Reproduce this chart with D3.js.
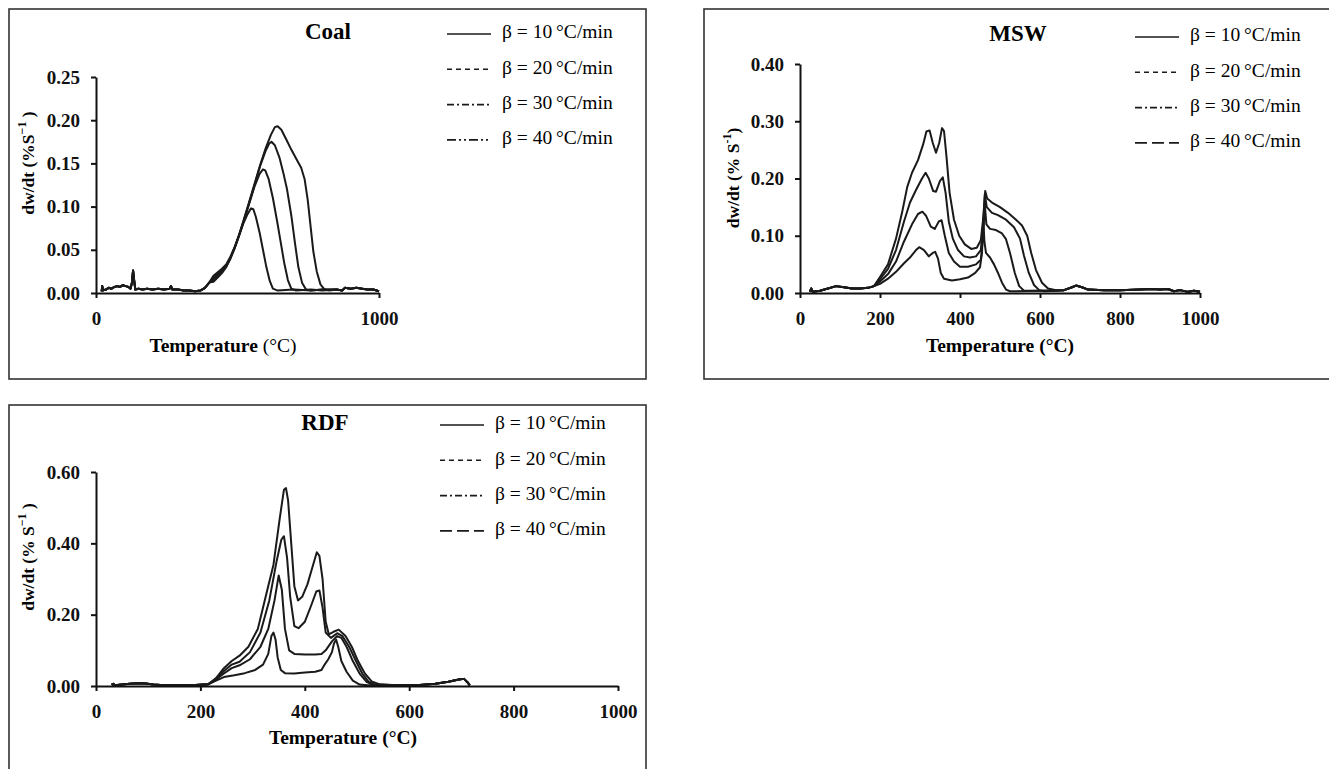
<!DOCTYPE html>
<html>
<head>
<meta charset="utf-8">
<script src="https://d3js.org/d3.v7.min.js"></script>
<style>
body { margin: 0; background: #fff; }
svg { display: block; }
.tick text { font-family: "Liberation Serif", "Times New Roman", serif; font-weight: bold; font-size: 19px; fill: #111; }
.axis path, .axis line { stroke: #111; stroke-width: 2; }
</style>
</head>
<body>
<svg width="1329" height="769"></svg>
<script>
var svg = d3.select("svg");

//////////// DATA (temperature in °C, dw/dt in %/s) ////////////

var legendLabels = ["β = 10\u2009°C/min", "β = 20\u2009°C/min", "β = 30\u2009°C/min", "β = 40\u2009°C/min"];

// coal - common noisy start, then one array per heating rate
var coalLow = [[20,0.002],[22,0.008],[25,0.003],[35,0.004],[45,0.006],[55,0.005],[65,0.007],[75,0.008],[85,0.007],[95,0.009],[105,0.008],[115,0.007],[122,0.005],[127,0.012],[131,0.026],[135,0.014],[139,0.004],[150,0.005],[165,0.004],[180,0.005],[200,0.004],[220,0.005],[240,0.004],[260,0.005],[265,0.008],[270,0.004],[290,0.004],[310,0.003],[330,0.003],[350,0.002],[370,0.003],[385,0.006],[400,0.012]];
var coalTail = [[850,0.004],[870,0.003],[880,0.006],[900,0.005],[920,0.006],[940,0.005],[960,0.004],[980,0.004],[1000,0.002]];
var coal10 = [[415,0.02],[430,0.024],[445,0.028],[460,0.033],[475,0.042],[490,0.053],[505,0.066],[520,0.08],[535,0.091],[548,0.098],[556,0.097],[565,0.088],[578,0.07],[590,0.05],[602,0.03],[614,0.014],[625,0.005],[640,0.003],[700,0.004],[760,0.003],[800,0.004]];
var coal20 = [[415,0.017],[430,0.022],[445,0.026],[460,0.031],[475,0.04],[490,0.052],[505,0.066],[520,0.081],[540,0.102],[560,0.123],[578,0.138],[590,0.143],[598,0.142],[610,0.132],[625,0.11],[640,0.083],[652,0.06],[665,0.035],[678,0.015],[690,0.005],[705,0.003],[760,0.004],[800,0.003]];
var coal30 = [[415,0.015],[430,0.02],[445,0.025],[460,0.031],[475,0.041],[490,0.053],[505,0.067],[520,0.082],[540,0.103],[560,0.125],[580,0.147],[600,0.165],[612,0.173],[620,0.175],[632,0.171],[648,0.157],[662,0.139],[675,0.12],[690,0.09],[703,0.058],[715,0.03],[728,0.012],[742,0.004],[760,0.003],[800,0.004]];
var coal40 = [[415,0.013],[430,0.018],[445,0.023],[460,0.03],[475,0.04],[490,0.052],[505,0.066],[520,0.082],[540,0.104],[560,0.126],[580,0.148],[600,0.168],[618,0.183],[632,0.192],[642,0.193],[655,0.189],[672,0.178],[690,0.166],[708,0.155],[725,0.145],[737,0.132],[748,0.108],[758,0.078],[768,0.048],[780,0.025],[793,0.01],[808,0.004],[825,0.003]];

// MSW
var mswLow = [[25,0.002],[28,0.008],[32,0.002],[50,0.004],[70,0.008],[90,0.012],[110,0.01],[130,0.008],[150,0.008],[170,0.009],[185,0.012]];
var mswTail = [[660,0.005],[680,0.01],[690,0.013],[705,0.01],[720,0.006],[760,0.005],[800,0.005],[850,0.006],[880,0.007],[900,0.006],[920,0.007],[935,0.003],[950,0.005],[970,0.002],[985,0.004],[1000,0.002]];
var msw10 = [[200,0.016],[220,0.025],[240,0.037],[260,0.052],[275,0.062],[290,0.075],[298,0.08],[310,0.075],[322,0.064],[332,0.07],[338,0.072],[345,0.06],[352,0.035],[360,0.025],[380,0.022],[400,0.024],[420,0.027],[438,0.035],[450,0.045],[455,0.07],[458,0.13],[461,0.09],[465,0.07],[475,0.062],[485,0.05],[495,0.035],[505,0.018],[515,0.006],[525,0.003],[600,0.004]];
var msw20 = [[200,0.02],[220,0.033],[240,0.055],[260,0.09],[280,0.12],[295,0.138],[306,0.142],[315,0.135],[327,0.116],[337,0.112],[347,0.125],[354,0.127],[362,0.1],[372,0.07],[385,0.055],[400,0.046],[420,0.046],[440,0.05],[452,0.058],[458,0.1],[462,0.155],[466,0.12],[475,0.112],[490,0.11],[505,0.104],[515,0.094],[525,0.07],[537,0.035],[548,0.012],[560,0.004],[620,0.004]];
var msw30 = [[200,0.024],[220,0.042],[240,0.075],[260,0.125],[275,0.158],[290,0.18],[305,0.2],[314,0.21],[322,0.2],[333,0.178],[340,0.177],[350,0.196],[357,0.202],[364,0.175],[372,0.125],[382,0.095],[395,0.075],[410,0.064],[425,0.062],[440,0.064],[452,0.075],[458,0.12],[462,0.172],[467,0.15],[480,0.14],[495,0.136],[515,0.128],[535,0.115],[550,0.095],[560,0.065],[572,0.035],[585,0.014],[598,0.005],[610,0.003],[640,0.004]];
var msw40 = [[200,0.028],[220,0.05],[240,0.095],[255,0.14],[268,0.185],[280,0.21],[295,0.232],[308,0.26],[316,0.282],[324,0.284],[332,0.262],[340,0.245],[348,0.262],[355,0.288],[360,0.283],[366,0.24],[374,0.175],[385,0.128],[398,0.1],[412,0.085],[428,0.077],[442,0.079],[452,0.092],[458,0.13],[463,0.178],[468,0.165],[480,0.158],[500,0.15],[520,0.14],[540,0.128],[555,0.118],[568,0.1],[578,0.07],[590,0.04],[605,0.018],[620,0.008],[640,0.005]];

// RDF
var rdfLow = [[30,0.003],[33,0.006],[36,0.002],[50,0.004],[65,0.006],[80,0.008],[95,0.007],[110,0.004],[130,0.002],[160,0.002],[190,0.003],[215,0.005]];
var rdfTail = [[580,0.002],[620,0.003],[650,0.006],[675,0.012],[695,0.018],[705,0.02],[712,0.01],[716,0.002]];
var rdf10 = [[230,0.015],[245,0.025],[265,0.03],[285,0.036],[305,0.045],[320,0.06],[330,0.09],[336,0.14],[340,0.15],[344,0.13],[348,0.08],[354,0.045],[362,0.036],[380,0.035],[400,0.038],[420,0.04],[432,0.045],[438,0.06],[445,0.075],[452,0.095],[456,0.12],[460,0.13],[464,0.11],[470,0.07],[480,0.04],[492,0.015],[505,0.004],[520,0.002]];
var rdf20 = [[230,0.018],[245,0.035],[260,0.05],[275,0.058],[295,0.075],[315,0.11],[330,0.16],[342,0.24],[350,0.31],[356,0.27],[362,0.16],[370,0.1],[380,0.09],[400,0.088],[420,0.088],[432,0.09],[440,0.1],[452,0.125],[462,0.14],[470,0.135],[480,0.11],[492,0.07],[505,0.035],[518,0.012],[530,0.004]];
var rdf30 = [[230,0.02],[245,0.042],[260,0.06],[275,0.068],[295,0.095],[315,0.15],[332,0.24],[346,0.35],[355,0.41],[360,0.42],[366,0.36],[372,0.25],[380,0.168],[388,0.162],[400,0.18],[412,0.225],[422,0.265],[428,0.268],[434,0.22],[440,0.15],[450,0.135],[462,0.148],[472,0.14],[485,0.11],[498,0.07],[510,0.035],[522,0.012],[535,0.004]];
var rdf40 = [[230,0.022],[245,0.05],[260,0.07],[275,0.085],[292,0.11],[310,0.16],[325,0.25],[340,0.34],[352,0.47],[360,0.55],[364,0.555],[368,0.52],[374,0.4],[380,0.28],[387,0.24],[395,0.25],[405,0.285],[415,0.335],[423,0.375],[428,0.365],[434,0.3],[440,0.18],[446,0.145],[455,0.152],[465,0.158],[478,0.14],[490,0.11],[502,0.07],[515,0.035],[528,0.013],[545,0.004]];

var coalYTicks = [0, 0.05, 0.10, 0.15, 0.20, 0.25];
var mswYTicks = [0, 0.10, 0.20, 0.30, 0.40];
var rdfYTicks = [0, 0.20, 0.40, 0.60];
var coalXTicks = [0, 1000];
var fullXTicks = [0, 200, 400, 600, 800, 1000];

//////////// PANELS ////////////

var panels = [
  { name: "Coal", box: [9, 9, 637, 370], x0: 96, x1: 379, yTop: 77, yBot: 293,
    yMax: 0.25, yTicks: coalYTicks, xTicks: coalXTicks,
    series: [coalLow.concat(coal10, coalTail), coalLow.concat(coal20, coalTail), coalLow.concat(coal30, coalTail), coalLow.concat(coal40, coalTail)],
    titleX: 328, titleY: 34, legX: 447, legY: 34, legDash40: "9,3,2,3,2,3",
    ylab: ["dw/dt (%S", "−1", " )"], ylabX: 30, ylabY: 163, xlabX: 223, xlabY: 348, degBold: false },
  { name: "MSW", box: [704, 9, 640, 370], x0: 800, x1: 1200, yTop: 64, yBot: 293,
    yMax: 0.40, yTicks: mswYTicks, xTicks: fullXTicks,
    series: [mswLow.concat(msw10, mswTail), mswLow.concat(msw20, mswTail), mswLow.concat(msw30, mswTail), mswLow.concat(msw40, mswTail)],
    titleX: 1018, titleY: 36, legX: 1135, legY: 37, legDash40: "12,5",
    ylab: ["dw/dt (% S", "-1", ")"], ylabX: 735, ylabY: 178, xlabX: 1000, xlabY: 348, degBold: true },
  { name: "RDF", box: [9, 405, 637, 380], x0: 96, x1: 618, yTop: 472, yBot: 686,
    yMax: 0.60, yTicks: rdfYTicks, xTicks: fullXTicks,
    series: [rdfLow.concat(rdf10, rdfTail), rdfLow.concat(rdf20, rdfTail), rdfLow.concat(rdf30, rdfTail), rdfLow.concat(rdf40, rdfTail)],
    titleX: 325, titleY: 425, legX: 440, legY: 425, legDash40: "12,5",
    ylab: ["dw/dt (% S", "−1", " )"], ylabX: 30, ylabY: 557, xlabX: 343, xlabY: 740, degBold: true }
];

var legendDash = [null, "5,4", "7,3,2,3"];

panels.forEach(function(p) {
  var g = svg.append("g");

  // frame
  g.append("rect")
    .attr("x", p.box[0]).attr("y", p.box[1])
    .attr("width", p.box[2]).attr("height", p.box[3])
    .attr("fill", "none").attr("stroke", "#333").attr("stroke-width", 1.6);

  var x = d3.scaleLinear().domain([0, 1000]).range([p.x0, p.x1]);
  var y = d3.scaleLinear().domain([0, p.yMax]).range([p.yBot, p.yTop]);

  var line = d3.line()
    .x(function(d) { return x(d[0]); })
    .y(function(d) { return y(d[1]); });

  // curves (all drawn solid in the original)
  g.selectAll("path.curve")
    .data(p.series)
    .enter().append("path")
    .attr("class", "curve")
    .attr("d", line)
    .attr("fill", "none")
    .attr("stroke", "#1a1a1a")
    .attr("stroke-width", 2)
    .attr("stroke-linejoin", "round");

  // axes
  g.append("g")
    .attr("class", "axis")
    .attr("transform", "translate(0," + p.yBot + ")")
    .call(d3.axisBottom(x).tickValues(p.xTicks).tickSize(5).tickSizeOuter(0).tickPadding(14).tickFormat(d3.format("d")));

  g.append("g")
    .attr("class", "axis")
    .attr("transform", "translate(" + p.x0 + ",0)")
    .call(d3.axisLeft(y).tickValues(p.yTicks).tickSize(5).tickSizeOuter(0).tickPadding(11).tickFormat(d3.format(".2f")));

  // title
  g.append("text")
    .attr("x", p.titleX).attr("y", p.titleY)
    .attr("text-anchor", "middle").attr("dominant-baseline", "middle")
    .style("font-family", "Liberation Serif, serif").style("font-weight", "bold").style("font-size", "23px")
    .text(p.name);

  // legend
  legendLabels.forEach(function(lbl, i) {
    var ly = p.legY + i * 35.3;
    var dash = i < 3 ? legendDash[i] : p.legDash40;
    g.append("line")
      .attr("x1", p.legX).attr("x2", p.legX + 44)
      .attr("y1", ly).attr("y2", ly)
      .attr("stroke", "#1a1a1a").attr("stroke-width", 1.6)
      .attr("stroke-dasharray", dash);
    g.append("text")
      .attr("x", p.legX + 55).attr("y", ly)
      .attr("dominant-baseline", "middle")
      .style("font-family", "Liberation Serif, serif").style("font-size", "19.5px")
      .text(lbl);
  });

  // y label
  var yl = g.append("text")
    .attr("transform", "translate(" + p.ylabX + "," + p.ylabY + ") rotate(-90)")
    .attr("text-anchor", "middle").attr("dominant-baseline", "middle")
    .style("font-family", "Liberation Serif, serif").style("font-weight", "bold").style("font-size", "17.5px");
  yl.append("tspan").text(p.ylab[0]);
  yl.append("tspan").attr("dy", -7).style("font-size", "12px").text(p.ylab[1]);
  yl.append("tspan").attr("dy", 7).text(p.ylab[2]);

  // x label
  var xl = g.append("text")
    .attr("x", p.xlabX).attr("y", p.xlabY)
    .attr("text-anchor", "middle").attr("dominant-baseline", "middle")
    .style("font-family", "Liberation Serif, serif").style("font-weight", "bold").style("font-size", "19.5px");
  xl.append("tspan").text("Temperature ");
  xl.append("tspan").style("font-weight", p.degBold ? "bold" : "normal").text("(°C)");
});
</script>
</body>
</html>
